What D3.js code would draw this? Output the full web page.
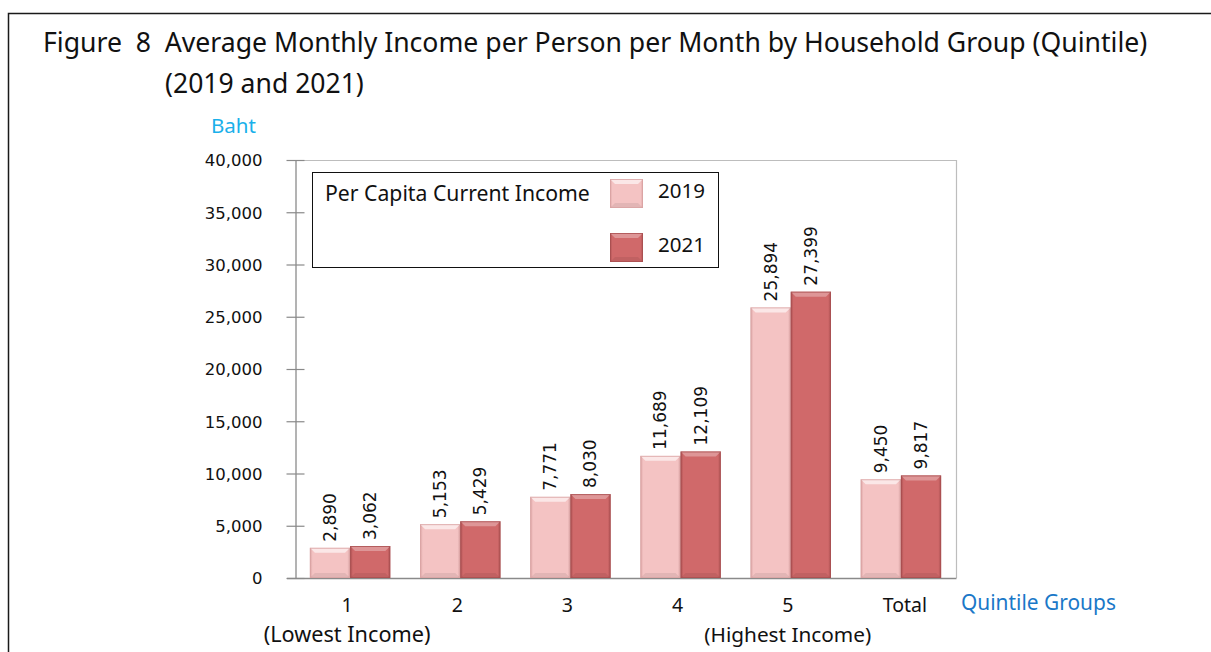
<!DOCTYPE html>
<html>
<head>
<meta charset="utf-8">
<script src="https://cdn.jsdelivr.net/npm/d3@7"></script>
<style>
  html, body { margin: 0; padding: 0; background: #fff; }
  svg { display: block; }
</style>
</head>
<body>
<svg id="chart" width="1211" height="652"></svg>
<script>
// ---- data ----
const categories = ["1", "2", "3", "4", "5", "Total"];
const values2019 = [2890, 5153, 7771, 11689, 25894, 9450];
const values2021 = [3062, 5429, 8030, 12109, 27399, 9817];
const seriesNames = ["2019", "2021"];
const yTicks = [0, 5000, 10000, 15000, 20000, 25000, 30000, 35000, 40000];
const titleLine1 = "Figure  8  Average Monthly Income per Person per Month by Household Group (Quintile)";
const titleLine2 = "(2019 and 2021)";
const subLabels = [{cat: "1", text: "(Lowest Income)"}, {cat: "5", text: "(Highest Income)"}];

const svg = d3.select("#chart");
const W = 1211, H = 652;
const plot = {left: 295, right: 956, top: 160, bottom: 578};

const colors = {"2019": "#f4c3c3", "2021": "#d0696a"};
const edge = {"2019": "#d9a3a3", "2021": "#a94f50"};

// defs: gradients for bevel look
const defs = svg.append("defs");
seriesNames.forEach(s => {
  const g = defs.append("linearGradient").attr("id", "grad" + s)
    .attr("x1", "0").attr("x2", "1").attr("y1", "0").attr("y2", "0");
  g.append("stop").attr("offset", "0").attr("stop-color", edge[s]);
  g.append("stop").attr("offset", "0.07").attr("stop-color", colors[s]);
  g.append("stop").attr("offset", "0.93").attr("stop-color", colors[s]);
  g.append("stop").attr("offset", "1").attr("stop-color", edge[s]);
});

// outer frame
svg.append("path")
  .attr("d", `M8.5,${H + 5}V13.5H${W + 5}`)
  .attr("fill", "none").attr("stroke", "#1a1a1a").attr("stroke-width", 1.5);

function fitText(sel, targetWidth, baseSize) {
  sel.style("font-size", baseSize + "px");
  const w = sel.node().getComputedTextLength();
  sel.style("font-size", (baseSize * targetWidth / w) + "px");
}

const titleFont = "'Noto Sans', 'Open Sans', sans-serif";
const numFont = "'DejaVu Sans', Verdana, sans-serif";
const t1 = svg.append("text").attr("x", 43).attr("y", 52)
  .attr("font-family", titleFont).attr("fill", "#111").style("white-space", "pre")
  .attr("xml:space", "preserve").text(titleLine1);
fitText(t1, 1105, 24);
const t2 = svg.append("text").attr("x", 165).attr("y", 93)
  .attr("font-family", titleFont).attr("fill", "#111").text(titleLine2);
fitText(t2, 199, 24);

// scales
const x0 = d3.scaleBand().domain(categories).range([plot.left, plot.right])
  .paddingInner(0.27).paddingOuter(0.135);
const x1 = d3.scaleBand().domain(seriesNames).range([0, x0.bandwidth()]);
const y = d3.scaleLinear().domain([0, 40000]).range([plot.bottom, plot.top]);

// plot frame (top and right)
svg.append("path")
  .attr("d", `M${plot.left - 8},${y(40000) + 0.5}H${plot.right + 0.5}V${plot.bottom}`)
  .attr("fill", "none").attr("stroke", "#bdbdbd").attr("stroke-width", 1.2);

// y axis
const yAxis = d3.axisLeft(y).tickValues(yTicks).tickSize(0).tickPadding(33)
  .tickFormat(d3.format(","));
const ya = svg.append("g").attr("transform", `translate(${plot.left + 0.5},0)`).call(yAxis);
ya.select(".domain").attr("stroke", "#8a8a8a").attr("stroke-width", 1.3);
ya.selectAll("text").attr("font-family", numFont)
  .attr("font-size", 16.5).attr("fill", "#111").attr("dy", "0.35em");
// cross ticks
ya.selectAll(".tick").append("line").attr("x1", -9).attr("x2", 9)
  .attr("stroke", "#8a8a8a").attr("stroke-width", 1.2);

// bottom axis
svg.append("line").attr("x1", plot.left - 8).attr("x2", plot.right + 0.5)
  .attr("y1", plot.bottom + 0.5).attr("y2", plot.bottom + 0.5)
  .attr("stroke", "#8a8a8a").attr("stroke-width", 1.3);

// bars
const rows = categories.map((c, i) => ({cat: c, vals: [
  {s: "2019", v: values2019[i]}, {s: "2021", v: values2021[i]}]}));

function bevelBar(g, xPos, yTop, w, h, s) {
  g.append("rect").attr("x", xPos).attr("y", yTop).attr("width", w).attr("height", h)
    .attr("fill", `url(#grad${s})`);
  const b = Math.min(5, h / 3);
  // top highlight
  g.append("path")
    .attr("d", `M${xPos},${yTop}H${xPos + w}L${xPos + w - b},${yTop + b}H${xPos + b}Z`)
    .attr("fill", "#fff").attr("opacity", s === "2019" ? 0.6 : 0.3);
  // bottom shade
  g.append("path")
    .attr("d", `M${xPos},${yTop + h}H${xPos + w}L${xPos + w - b},${yTop + h - b}H${xPos + b}Z`)
    .attr("fill", "#000").attr("opacity", 0.07);
  g.append("rect").attr("x", xPos + 0.5).attr("y", yTop + 0.5).attr("width", w - 1).attr("height", h - 1)
    .attr("fill", "none").attr("stroke", edge[s]).attr("stroke-width", 1).attr("opacity", 0.8);
}

const groups = svg.append("g").selectAll("g").data(rows).join("g")
  .attr("transform", d => `translate(${x0(d.cat)},0)`);
groups.each(function(d) {
  const g = d3.select(this);
  d.vals.forEach(e => {
    const bx = x1(e.s), bw = x1.bandwidth();
    bevelBar(g, bx, y(e.v), bw, y(0) - y(e.v), e.s);
    g.append("text")
      .attr("transform", `translate(${bx + bw / 2},${y(e.v) - 6}) rotate(-90)`)
      .attr("dy", "0.35em").attr("text-anchor", "start")
      .attr("font-family", numFont).attr("font-size", 17)
      .attr("fill", "#111").text(d3.format(",")(e.v));
  });
});

// category labels
svg.append("g").selectAll("text").data(categories).join("text")
  .attr("x", d => x0(d) + x0.bandwidth() / 2 - (d === "Total" ? -4 : 3))
  .attr("y", 612)
  .attr("text-anchor", "middle")
  .attr("font-family", titleFont).attr("font-size", 19.5)
  .attr("fill", "#111").text(d => d);

svg.append("g").selectAll("text").data(subLabels).join("text")
  .attr("x", d => x0(d.cat) + x0.bandwidth() / 2 - 3)
  .attr("y", 642).attr("text-anchor", "middle")
  .attr("font-family", titleFont).attr("fill", "#111").text(d => d.text)
  .each(function() { fitText(d3.select(this), 167, 18); });

// axis titles
const baht = svg.append("text").attr("x", 211).attr("y", 133)
  .attr("font-family", titleFont).attr("fill", "#1ab0ea").text("Baht");
fitText(baht, 45, 17);
const qg = svg.append("text").attr("x", 961).attr("y", 610)
  .attr("font-family", titleFont).attr("fill", "#1a78c8").text("Quintile Groups");
fitText(qg, 155, 17);

// legend
const lg = svg.append("g");
lg.append("rect").attr("x", 312.5).attr("y", 172.5).attr("width", 406).attr("height", 95)
  .attr("fill", "#fff").attr("stroke", "#111").attr("stroke-width", 1);
const lt = lg.append("text").attr("x", 325).attr("y", 201)
  .attr("font-family", titleFont).attr("fill", "#111").text("Per Capita Current Income");
fitText(lt, 265, 17);
seriesNames.forEach((s, i) => {
  const sy = 179 + i * 54;
  const sg = lg.append("g");
  bevelBar(sg, 610, sy, 33, 29, s);
  const tx = lg.append("text").attr("x", 658).attr("y", sy + 19)
    .attr("font-family", titleFont).attr("fill", "#111").text(s);
  fitText(tx, 47, 18);
});
</script>
</body>
</html>
